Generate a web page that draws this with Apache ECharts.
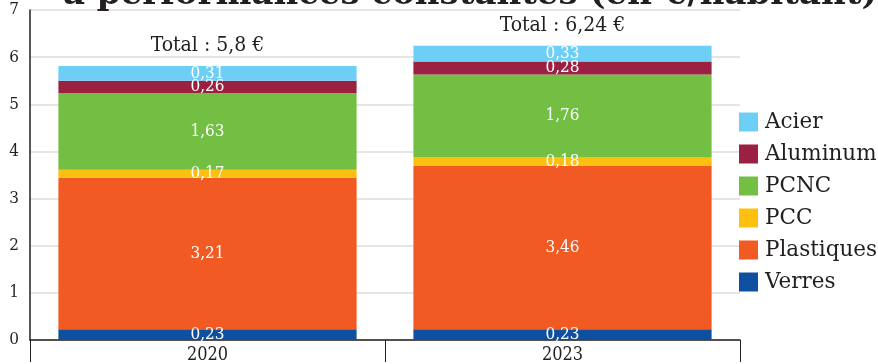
<!DOCTYPE html>
<html>
<head>
<meta charset="utf-8">
<script src="https://cdn.jsdelivr.net/npm/echarts@6/dist/echarts.min.js"></script>
<style>
    html, body { margin: 0; padding: 0; background: #fff; }
    #chart { width: 878px; height: 364px; }
</style>
</head>
<body>
<div id="chart"></div>
<script>
// catégories et valeurs (€/habitant)
const years = ['2020', '2023'];
const seriesNames = ['Verres', 'Plastiques', 'PCC', 'PCNC', 'Aluminum', 'Acier'];
const verres = [0.23, 0.23];
const plastiques = [3.21, 3.46];
const pcc = [0.17, 0.18];
const pcnc = [1.63, 1.76];
const aluminum = [0.26, 0.28];
const acier = [0.31, 0.33];
const totals = [5.8, 6.24];
const yTicks = [0, 1, 2, 3, 4, 5, 6, 7];

const colors = {
    Verres: '#0e4fa0',
    Plastiques: '#f15a22',
    PCC: '#fdc010',
    PCNC: '#72bf44',
    Aluminum: '#9b2042',
    Acier: '#6dcff6'
};

const labelFont = '"DejaVu Serif Condensed", "Liberation Serif", serif';
const legendFont = '"DejaVu Serif", serif';

const fmt = function (v) {
    return String(v).replace('.', ',');
};

const makeSeries = function (name, data) {
    return {
        name: name,
        type: 'bar',
        stack: 'total',
        barWidth: '84%',
        data: data,
        itemStyle: { color: colors[name] },
        label: {
            show: true,
            position: 'inside',
            color: '#fff',
            fontFamily: labelFont,
            fontSize: 17,
            formatter: function (p) {
                return fmt(p.value);
            }
        }
    };
};

const series = [
    makeSeries('Verres', verres),
    makeSeries('Plastiques', plastiques),
    makeSeries('PCC', pcc),
    makeSeries('PCNC', pcnc),
    makeSeries('Aluminum', aluminum),
    makeSeries('Acier', acier),
    {
        // total au-dessus de chaque barre
        name: 'Total',
        type: 'bar',
        stack: 'total',
        barWidth: '84%',
        data: years.map(function () { return 0; }),
        itemStyle: { color: 'transparent' },
        label: {
            show: true,
            position: 'top',
            distance: 10,
            color: '#231f20',
            fontFamily: labelFont,
            fontSize: 21,
            formatter: function (p) {
                return 'Total : ' + fmt(totals[p.dataIndex]) + ' €';
            }
        }
    }
];

const option = {
    animation: false,
    title: {
        text: 'à performances constantes (en €/habitant)',
        left: 58,
        top: -27,
        textStyle: {
            fontFamily: legendFont,
            fontWeight: 'bold',
            fontSize: 34,
            color: '#231f20'
        }
    },
    grid: {
        left: 30,
        right: 138,
        top: 10,
        bottom: 22,
        containLabel: false
    },
    legend: {
        data: seriesNames.slice().reverse(),
        orient: 'vertical',
        left: 734,
        top: 106,
        itemWidth: 19,
        itemHeight: 19,
        itemGap: 10,
        icon: 'rect',
        textStyle: {
            fontFamily: legendFont,
            fontSize: 21.5,
            color: '#231f20',
            padding: [0, 0, 0, 2]
        }
    },
    xAxis: {
        type: 'category',
        data: years,
        axisLine: { lineStyle: { color: '#231f20', width: 1.5 } },
        axisTick: {
            show: true,
            inside: false,
            length: 22,
            lineStyle: { color: '#231f20', width: 1 }
        },
        axisLabel: {
            margin: 6,
            color: '#231f20',
            fontFamily: labelFont,
            fontSize: 18
        }
    },
    yAxis: {
        type: 'value',
        min: yTicks[0],
        max: yTicks[yTicks.length - 1],
        interval: 1,
        axisLine: { show: true, lineStyle: { color: '#231f20', width: 1.5 } },
        axisTick: { show: false },
        splitLine: { lineStyle: { color: '#dcdcdc', width: 1.5 } },
        axisLabel: {
            margin: 11,
            color: '#231f20',
            fontFamily: labelFont,
            fontSize: 17
        }
    },
    series: series
};

const chart = echarts.init(document.getElementById('chart'));
chart.setOption(option);
</script>
</body>
</html>
